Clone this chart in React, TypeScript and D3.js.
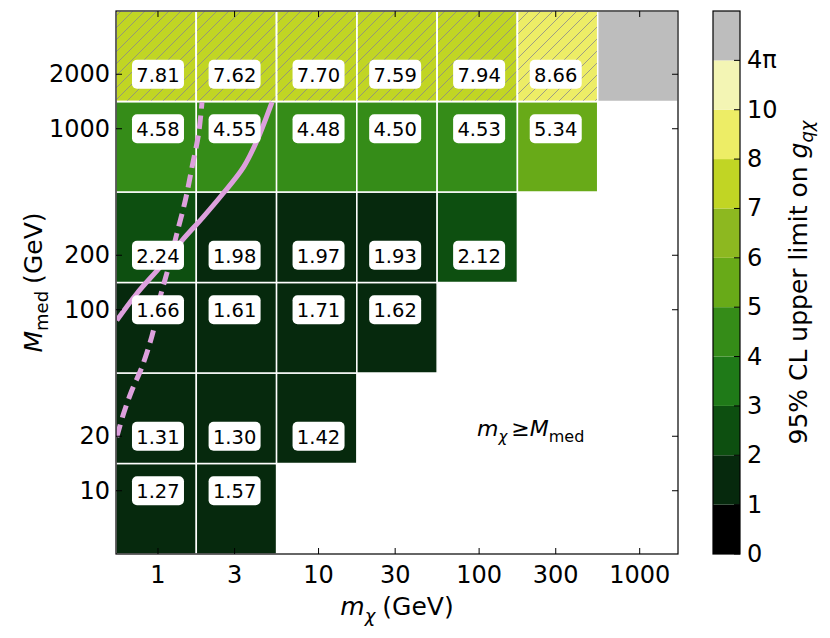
import React from "react";
import * as d3 from "d3";

// ---------- data ----------
const mChiValues = [1, 3, 10, 30, 100, 300, 1000];
const mMedValues = [10, 20, 100, 200, 1000, 2000];
const mChiTickLabels = ["1", "3", "10", "30", "100", "300", "1000"];
const mMedTickLabels = ["10", "20", "100", "200", "1000", "2000"];

// limits per mediator-mass row (index = mChi column)
const limitsMed10 = [1.27, 1.57];
const limitsMed20 = [1.31, 1.30, 1.42];
const limitsMed100 = [1.66, 1.61, 1.71, 1.62];
const limitsMed200 = [2.24, 1.98, 1.97, 1.93, 2.12];
const limitsMed1000 = [4.58, 4.55, 4.48, 4.5, 4.53, 5.34];
const limitsMed2000 = [7.81, 7.62, 7.7, 7.59, 7.94, 8.66, 15];
const limitRows = [limitsMed10, limitsMed20, limitsMed100, limitsMed200, limitsMed1000, limitsMed2000];
const hatchedMed = [2000];

// colour bins
const binBounds = [0, 1, 2, 3, 4, 5, 6, 7, 8, 10, 4 * Math.PI];
const binTickLabels = ["0", "1", "2", "3", "4", "5", "6", "7", "8", "10", "4π"];
const binColors = [
  "#000000", "#06290d", "#0d4f10", "#1f7a18", "#358c18", "#68aa18",
  "#8db820", "#c1d524", "#eded66", "#f3f5b4",
];
const overColor = "#bdbdbd";

// pink curves
const solidCurveChi = [0.554, 0.739, 1.03, 1.41, 1.91, 2.55, 3.41, 4.14, 5.13];
const solidCurveMed = [87.3, 123, 172, 241, 325, 440, 614, 861, 1403];
const dashedCurveChi = [0.554, 0.61, 0.687, 0.794, 0.937, 1.007, 1.163, 1.31, 1.48, 1.63, 1.79, 1.88];
const dashedCurveMed = [19.8, 26.6, 35.8, 48.2, 76.9, 108, 172, 263, 402, 614, 938, 1403];

// ---------- layout ----------
const W = 830, H = 638;
const plot = { left: 116, right: 678, top: 11, bottom: 554 };
const cbar = { left: 713, right: 740 };
const FONT = "DejaVu Sans, Liberation Sans, sans-serif";
const TICK_FS = 24;
const LABEL_FS = 25;
const SUB_FS = 18;

function logEdges(vals: number[]): number[] {
  const l = vals.map((v) => Math.log10(v));
  const mids = l.slice(1).map((v, i) => (v + l[i]) / 2);
  return [mids[0] - 0.5, ...mids, mids[mids.length - 1] + 0.5].map((v) => Math.pow(10, v));
}

const xEdges = logEdges(mChiValues);
const yEdges = logEdges(mMedValues);

const x = d3.scaleLog().domain([xEdges[0], xEdges[xEdges.length - 1]]).range([plot.left, plot.right]);
const y = d3.scaleLog().domain([yEdges[0], yEdges[yEdges.length - 1]]).range([plot.bottom, plot.top]);

function colorFor(v: number): string {
  if (v > binBounds[binBounds.length - 1]) return overColor;
  for (let i = 0; i < binBounds.length - 1; i++) {
    if (v >= binBounds[i] && v < binBounds[i + 1]) return binColors[i];
  }
  return binColors[binColors.length - 1];
}

const cbY = d3.scaleLinear().domain([0, binBounds.length]).range([plot.bottom, plot.top]);

export default function App() {
  const cells: any[] = [];
  limitRows.forEach((row, ri) => {
    row.forEach((v, ci) => {
      cells.push({ ri, ci, v, med: mMedValues[ri], chi: mChiValues[ci] });
    });
  });

  const line = d3
    .line<[number, number]>()
    .x((d) => x(d[0]))
    .y((d) => y(d[1]))
    .curve(d3.curveCatmullRom.alpha(0.5));
  const solidPath = line(solidCurveChi.map((c, i) => [c, solidCurveMed[i]] as [number, number])) || "";
  const dashedPath = line(dashedCurveChi.map((c, i) => [c, dashedCurveMed[i]] as [number, number])) || "";

  const tickLen = 6;

  return (
    <svg width={W} height={H} style={{ position: "absolute", left: 0, top: 0, background: "#fff" }} fontFamily={FONT}>
      <defs>
        <pattern id="hatch" patternUnits="userSpaceOnUse" width={12} height={12}>
          <path d="M0,12 L12,0 M-3,3 L3,-3 M9,15 L15,9" stroke="#8a8a8a" strokeWidth={0.8} />
        </pattern>
        <clipPath id="plotClip">
          <rect x={plot.left} y={plot.top} width={plot.right - plot.left} height={plot.bottom - plot.top} />
        </clipPath>
      </defs>
      <rect x={0} y={0} width={W} height={H} fill="#fff" />

      {/* cells */}
      <g clipPath="url(#plotClip)">
        {cells.map((c) => {
          const x0 = x(xEdges[c.ci]);
          const x1 = x(xEdges[c.ci + 1]);
          const y0 = y(yEdges[c.ri + 1]);
          const y1 = y(yEdges[c.ri]);
          const over = c.v > binBounds[binBounds.length - 1];
          return (
            <g key={`c${c.ri}-${c.ci}`}>
              <rect x={x0} y={y0} width={x1 - x0} height={y1 - y0} fill={colorFor(c.v)} stroke="#fff" strokeWidth={1.5} />
              {hatchedMed.includes(c.med) && !over && (
                <rect x={x0} y={y0} width={x1 - x0} height={y1 - y0} fill="url(#hatch)" stroke="#fff" strokeWidth={1.5} />
              )}
            </g>
          );
        })}
        <path d={solidPath} fill="none" stroke="#dda0dd" strokeWidth={5} strokeLinecap="butt" />
        <path d={dashedPath} fill="none" stroke="#dda0dd" strokeWidth={5} strokeDasharray="13 7" />
      </g>

      {/* value labels */}
      {cells
        .filter((c) => c.v <= binBounds[binBounds.length - 1])
        .map((c) => {
          const cx = x(c.chi);
          const cy = y(c.med);
          return (
            <g key={`l${c.ri}-${c.ci}`}>
              <rect x={cx - 26} y={cy - 14.5} width={52} height={29} rx={5} ry={5} fill="#fff" />
              <text x={cx} y={cy + 1} textAnchor="middle" dominantBaseline="central" fontSize={19.5} fill="#000">
                {c.v.toFixed(2)}
              </text>
            </g>
          );
        })}

      {/* annotation */}
      <text x={477} y={436} fontSize={22}>
        <tspan fontStyle="italic">m</tspan>
        <tspan fontStyle="italic" fontSize={15} dy={6}>χ</tspan>
        <tspan dy={-6} dx={4}>≥</tspan>
        <tspan fontStyle="italic">M</tspan>
        <tspan fontSize={16} dy={6}>med</tspan>
      </text>

      {/* axes frame and ticks */}
      <rect x={plot.left} y={plot.top} width={plot.right - plot.left} height={plot.bottom - plot.top} fill="none" stroke="#000" strokeWidth={1.2} />
      {mChiValues.map((v, i) => (
        <g key={`xt${i}`}>
          <line x1={x(v)} x2={x(v)} y1={plot.bottom} y2={plot.bottom - tickLen} stroke="#000" strokeWidth={1} />
          <line x1={x(v)} x2={x(v)} y1={plot.top} y2={plot.top + tickLen} stroke="#000" strokeWidth={1} />
          <text x={x(v)} y={583} textAnchor="middle" fontSize={TICK_FS}>
            {mChiTickLabels[i]}
          </text>
        </g>
      ))}
      {mMedValues.map((v, i) => (
        <g key={`yt${i}`}>
          <line x1={plot.left} x2={plot.left + tickLen} y1={y(v)} y2={y(v)} stroke="#000" strokeWidth={1} />
          <line x1={plot.right} x2={plot.right - tickLen} y1={y(v)} y2={y(v)} stroke="#000" strokeWidth={1} />
          <text x={plot.left - 6} y={y(v)} textAnchor="end" dominantBaseline="central" fontSize={TICK_FS}>
            {mMedTickLabels[i]}
          </text>
        </g>
      ))}

      {/* axis labels */}
      <text x={(plot.left + plot.right) / 2} y={615} textAnchor="middle" fontSize={LABEL_FS}>
        <tspan fontStyle="italic">m</tspan>
        <tspan fontStyle="italic" fontSize={SUB_FS} dy={7}>χ</tspan>
        <tspan dy={-7} dx={7}>(GeV)</tspan>
      </text>
      <text transform={`translate(42, ${(plot.top + plot.bottom) / 2}) rotate(-90)`} textAnchor="middle" fontSize={LABEL_FS}>
        <tspan fontStyle="italic">M</tspan>
        <tspan fontSize={SUB_FS} dy={6}>med</tspan>
        <tspan dy={-6} dx={7}>(GeV)</tspan>
      </text>

      {/* colour bar */}
      {binColors.concat([overColor]).map((col, i) => (
        <rect key={`cb${i}`} x={cbar.left} y={cbY(i + 1)} width={cbar.right - cbar.left} height={cbY(i) - cbY(i + 1)} fill={col} />
      ))}
      <rect x={cbar.left} y={plot.top} width={cbar.right - cbar.left} height={plot.bottom - plot.top} fill="none" stroke="#000" strokeWidth={1.2} />
      {binTickLabels.map((t, i) => (
        <g key={`cbt${i}`}>
          <line x1={cbar.right} x2={cbar.right - 6} y1={cbY(i)} y2={cbY(i)} stroke="#000" strokeWidth={1} />
          <text x={cbar.right + 7} y={cbY(i)} dominantBaseline="central" fontSize={TICK_FS}>
            {t}
          </text>
        </g>
      ))}
      <text transform={`translate(807, ${(plot.top + plot.bottom) / 2}) rotate(-90)`} textAnchor="middle" fontSize={LABEL_FS}>
        <tspan>95% CL upper limit on </tspan>
        <tspan fontStyle="italic">g</tspan>
        <tspan fontStyle="italic" fontSize={SUB_FS} dy={6}>qχ</tspan>
      </text>
    </svg>
  );
}
